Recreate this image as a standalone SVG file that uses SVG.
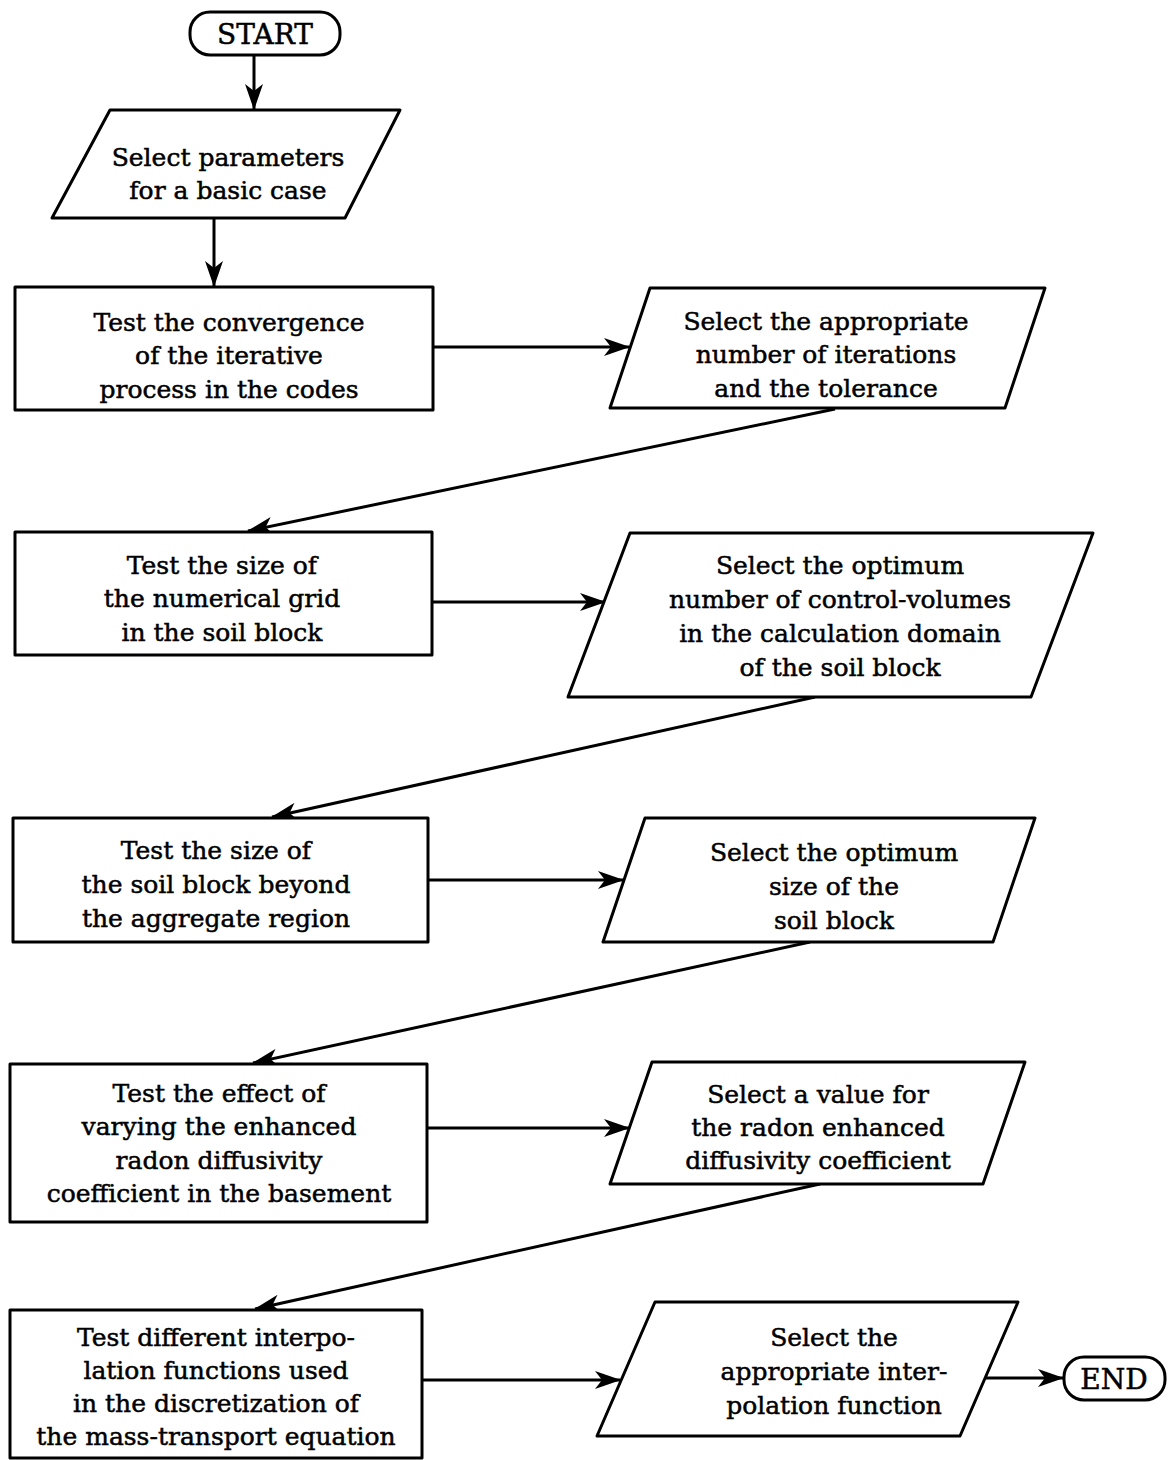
<svg xmlns="http://www.w3.org/2000/svg" width="1170" height="1460" viewBox="0 0 1170 1460">
<style>
  .shape { fill: #fff; stroke: #000; stroke-width: 3; stroke-linejoin: round; }
  .conn { fill: none; stroke: #000; stroke-width: 3; marker-end: url(#ah); }
  text { font-family: "DejaVu Serif", "Liberation Serif", serif; font-size: 25px; text-anchor: middle; fill: #000; stroke: #000; stroke-width: 0.5; }
  text.term { font-size: 28px; }
</style>
<defs>
  <marker id="ah" viewBox="0 0 26 18" markerWidth="26" markerHeight="18" refX="25" refY="9" orient="auto" markerUnits="userSpaceOnUse">
    <path d="M0,0 L26,9 L0,18 L7,9 Z" fill="#000"/>
  </marker>
</defs>
<rect width="1170" height="1460" fill="#fff"/>

<g id="connectors">
  <path class="conn" d="M254,55 L254,109"/>
  <path class="conn" d="M214,218 L214,286"/>
  <path class="conn" d="M433,347 L629,347"/>
  <path class="conn" d="M835,409 L248,531"/>
  <path class="conn" d="M432,602 L605,602"/>
  <path class="conn" d="M815,697 L272,817"/>
  <path class="conn" d="M428,880 L623,880"/>
  <path class="conn" d="M810,942 L253,1063"/>
  <path class="conn" d="M427,1128 L629,1128"/>
  <path class="conn" d="M820,1184 L255,1309"/>
  <path class="conn" d="M422,1380 L620,1380"/>
  <path class="conn" d="M986,1378 L1063,1378"/>
</g>

<g id="start">
  <rect class="shape" x="190" y="12" width="150" height="43" rx="20" ry="20"/>
  <text class="term" x="265" y="44">START</text>
</g>

<g id="select-parameters">
  <polygon class="shape" points="110,110 400,110 345,218 52,218"/>
  <text x="228" y="166">Select parameters</text>
  <text x="228" y="199">for a basic case</text>
</g>

<g id="test-convergence">
  <rect class="shape" x="15" y="287" width="418" height="123"/>
  <text x="229" y="331">Test the convergence</text>
  <text x="229" y="364">of the iterative</text>
  <text x="229" y="398">process in the codes</text>
</g>

<g id="select-iterations">
  <polygon class="shape" points="650,288 1045,288 1005,408 610,408"/>
  <text x="826" y="330">Select the appropriate</text>
  <text x="826" y="363">number of iterations</text>
  <text x="826" y="397">and the tolerance</text>
</g>

<g id="test-grid">
  <rect class="shape" x="15" y="532" width="417" height="123"/>
  <text x="222" y="574">Test the size of</text>
  <text x="222" y="607">the numerical grid</text>
  <text x="222" y="641">in the soil block</text>
</g>

<g id="select-control-volumes">
  <polygon class="shape" points="630,533 1093,533 1031,697 568,697"/>
  <text x="840" y="574">Select the optimum</text>
  <text x="840" y="608">number of control-volumes</text>
  <text x="840" y="642">in the calculation domain</text>
  <text x="840" y="676">of the soil block</text>
</g>

<g id="test-soil-block">
  <rect class="shape" x="13" y="818" width="415" height="124"/>
  <text x="216" y="859">Test the size of</text>
  <text x="216" y="893">the soil block beyond</text>
  <text x="216" y="927">the aggregate region</text>
</g>

<g id="select-soil-size">
  <polygon class="shape" points="645,818 1035,818 993,942 603,942"/>
  <text x="834" y="861">Select the optimum</text>
  <text x="834" y="895">size of the</text>
  <text x="834" y="929">soil block</text>
</g>

<g id="test-diffusivity">
  <rect class="shape" x="10" y="1064" width="417" height="158"/>
  <text x="219" y="1102">Test the effect of</text>
  <text x="219" y="1135">varying the enhanced</text>
  <text x="219" y="1169">radon diffusivity</text>
  <text x="219" y="1202">coefficient in the basement</text>
</g>

<g id="select-diffusivity">
  <polygon class="shape" points="652,1062 1025,1062 983,1184 610,1184"/>
  <text x="818" y="1103">Select a value for</text>
  <text x="818" y="1136">the radon enhanced</text>
  <text x="818" y="1169">diffusivity coefficient</text>
</g>

<g id="test-interpolation">
  <rect class="shape" x="10" y="1310" width="412" height="148"/>
  <text x="216" y="1346">Test different interpo-</text>
  <text x="216" y="1379">lation functions used</text>
  <text x="216" y="1412">in the discretization of</text>
  <text x="216" y="1445">the mass-transport equation</text>
</g>

<g id="select-interpolation">
  <polygon class="shape" points="655,1302 1018,1302 960,1436 597,1436"/>
  <text x="834" y="1346">Select the</text>
  <text x="834" y="1380">appropriate inter-</text>
  <text x="834" y="1414">polation function</text>
</g>

<g id="end">
  <rect class="shape" x="1064" y="1357" width="101" height="43" rx="20" ry="20"/>
  <text class="term" x="1114" y="1389">END</text>
</g>
</svg>
